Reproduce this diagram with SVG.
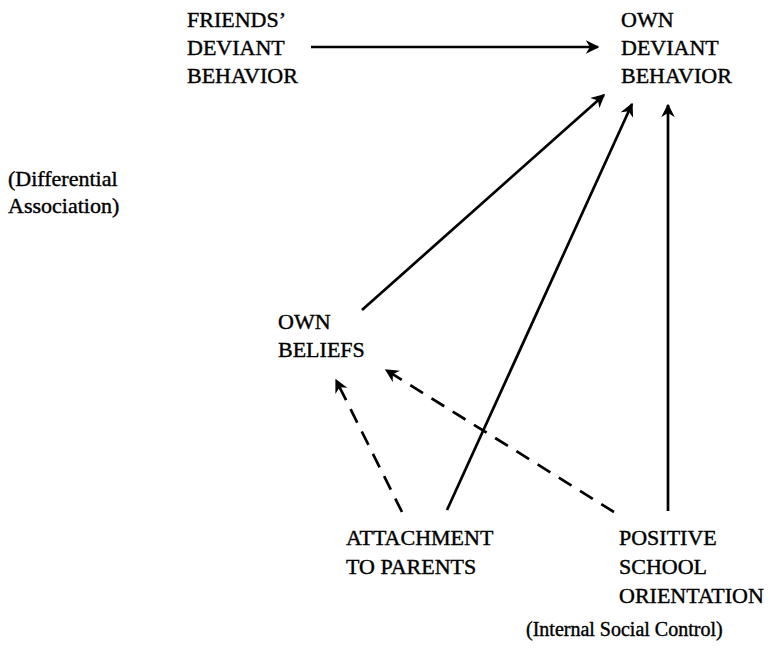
<svg xmlns="http://www.w3.org/2000/svg" width="780" height="652" viewBox="0 0 780 652">
<defs>
<style>
text{font-family:"Liberation Serif","Times New Roman",serif;font-size:22px;fill:#000;stroke:#000;stroke-width:0.4}
text.small{font-size:20px}
.solid{stroke:#000;stroke-width:2.7;fill:none}
.dash{stroke:#000;stroke-width:2.7;fill:none;stroke-dasharray:15 10}
</style>
<marker id="ah" viewBox="0 0 10 10" refX="9" refY="5" markerWidth="5" markerHeight="5" markerUnits="strokeWidth" orient="auto">
<path d="M0,0 L10,5 L0,10 L3,5 Z" fill="#000"/>
</marker>
</defs>
<rect width="780" height="652" fill="#fff"/>
<g id="friends">
<text x="187" y="27">FRIENDS’</text>
<text x="187" y="55">DEVIANT</text>
<text x="187" y="83">BEHAVIOR</text>
</g>
<g id="own-deviant">
<text x="621" y="27">OWN</text>
<text x="621" y="55">DEVIANT</text>
<text x="621" y="83">BEHAVIOR</text>
</g>
<g id="diff-assoc">
<text x="8" y="186">(Differential</text>
<text x="8" y="213">Association)</text>
</g>
<g id="own-beliefs">
<text x="278" y="329">OWN</text>
<text x="278" y="357">BELIEFS</text>
</g>
<g id="attachment">
<text x="346" y="545">ATTACHMENT</text>
<text x="346" y="574">TO PARENTS</text>
</g>
<g id="school">
<text x="619" y="545">POSITIVE</text>
<text x="619" y="574">SCHOOL</text>
<text x="619" y="603">ORIENTATION</text>
</g>
<g id="isc">
<text class="small" x="526" y="636">(Internal Social Control)</text>
</g>
<g id="connectors">
<line class="solid" x1="311" y1="47" x2="598" y2="47" marker-end="url(#ah)"/>
<line class="solid" x1="362" y1="310" x2="604" y2="95" marker-end="url(#ah)"/>
<line class="solid" x1="447" y1="510" x2="632" y2="104" marker-end="url(#ah)"/>
<line class="solid" x1="668" y1="511" x2="668" y2="105" marker-end="url(#ah)"/>
<line class="dash" x1="402" y1="512" x2="336" y2="380" marker-end="url(#ah)"/>
<line class="dash" x1="614" y1="512" x2="386" y2="370" marker-end="url(#ah)"/>
</g>
</svg>
